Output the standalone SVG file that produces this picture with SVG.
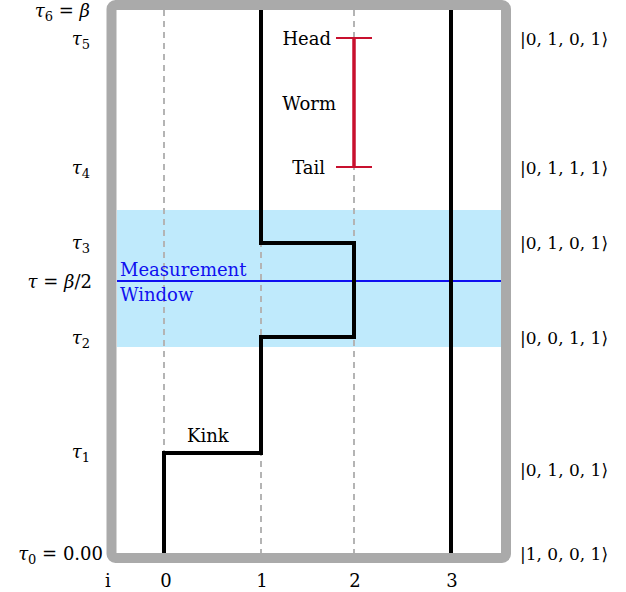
<svg xmlns="http://www.w3.org/2000/svg" width="626" height="592" viewBox="0 0 626 592">
<style>
text{font-family:"DejaVu Serif","Liberation Serif",serif;font-size:18px;fill:#000}
.m{font-style:italic}
.lbl{text-anchor:end}
.st{text-anchor:start;font-size:17px}
.ax{text-anchor:middle}
.dash{stroke:#b4b4b4;stroke-width:2;stroke-dasharray:6,5;fill:none}
.wl{stroke:#000;stroke-width:4;fill:none}
</style>
<rect id="window" x="117" y="210" width="384" height="137" fill="#bfeafc"/>
<g id="grid">
<line class="dash" x1="164" y1="10" x2="164" y2="553"/>
<line class="dash" x1="261" y1="10" x2="261" y2="553"/>
<line class="dash" x1="354" y1="10" x2="354" y2="553"/>
</g>
<line id="half" x1="117" y1="281" x2="501" y2="281" stroke="#1010f0" stroke-width="2"/>
<g id="connectors">
<polyline class="wl" points="164,553 164,453 261,453 261,337 354,337 354,243 261,243 261,10"/>
<line class="wl" x1="451" y1="10" x2="451" y2="553"/>
</g>
<g id="worm" stroke="#c8102e" stroke-width="3.5" fill="none">
<line x1="354" y1="38" x2="354" y2="167"/>
<line x1="336" y1="38" x2="372" y2="38" stroke-width="2"/>
<line x1="336" y1="167" x2="372" y2="167" stroke-width="2"/>
</g>
<rect id="frame" x="111.5" y="5" width="394.5" height="553" rx="4" fill="none" stroke="#aaaaaa" stroke-width="10"/>
<g id="labels">
<text x="331" y="45" class="lbl">Head</text>
<text x="336" y="110" class="lbl">Worm</text>
<text x="325" y="174" class="lbl">Tail</text>
<text x="187" y="442">Kink</text>
<text x="120" y="276" style="fill:#1010f0">Measurement</text>
<text x="120" y="301" style="fill:#1010f0">Window</text>
</g>
<g id="taus">
<text x="90" y="17" class="lbl"><tspan class="m">τ</tspan><tspan font-size="13" dy="4">6</tspan><tspan dy="-4"> = </tspan><tspan class="m">β</tspan></text>
<text x="90" y="45" class="lbl"><tspan class="m">τ</tspan><tspan font-size="13" dy="4">5</tspan></text>
<text x="90" y="174" class="lbl"><tspan class="m">τ</tspan><tspan font-size="13" dy="4">4</tspan></text>
<text x="90" y="249" class="lbl"><tspan class="m">τ</tspan><tspan font-size="13" dy="4">3</tspan></text>
<text x="92" y="288" class="lbl"><tspan class="m">τ</tspan>  =  <tspan class="m">β</tspan>/2</text>
<text x="90" y="344" class="lbl"><tspan class="m">τ</tspan><tspan font-size="13" dy="4">2</tspan></text>
<text x="90" y="458" class="lbl"><tspan class="m">τ</tspan><tspan font-size="13" dy="4">1</tspan></text>
<text x="103" y="560" class="lbl"><tspan class="m">τ</tspan><tspan font-size="13" dy="4">0</tspan><tspan dy="-4">  =  0.00</tspan></text>
</g>
<g id="states">
<text x="520" y="45" class="st">|0, 1, 0, 1⟩</text>
<text x="520" y="174" class="st">|0, 1, 1, 1⟩</text>
<text x="520" y="249" class="st">|0, 1, 0, 1⟩</text>
<text x="520" y="344" class="st">|0, 0, 1, 1⟩</text>
<text x="520" y="476" class="st">|0, 1, 0, 1⟩</text>
<text x="520" y="560" class="st">|1, 0, 0, 1⟩</text>
</g>
<g id="axis">
<text x="108" y="587" class="ax">i</text>
<text x="166" y="587" class="ax">0</text>
<text x="262" y="587" class="ax">1</text>
<text x="355" y="587" class="ax">2</text>
<text x="452" y="587" class="ax">3</text>
</g>
</svg>
